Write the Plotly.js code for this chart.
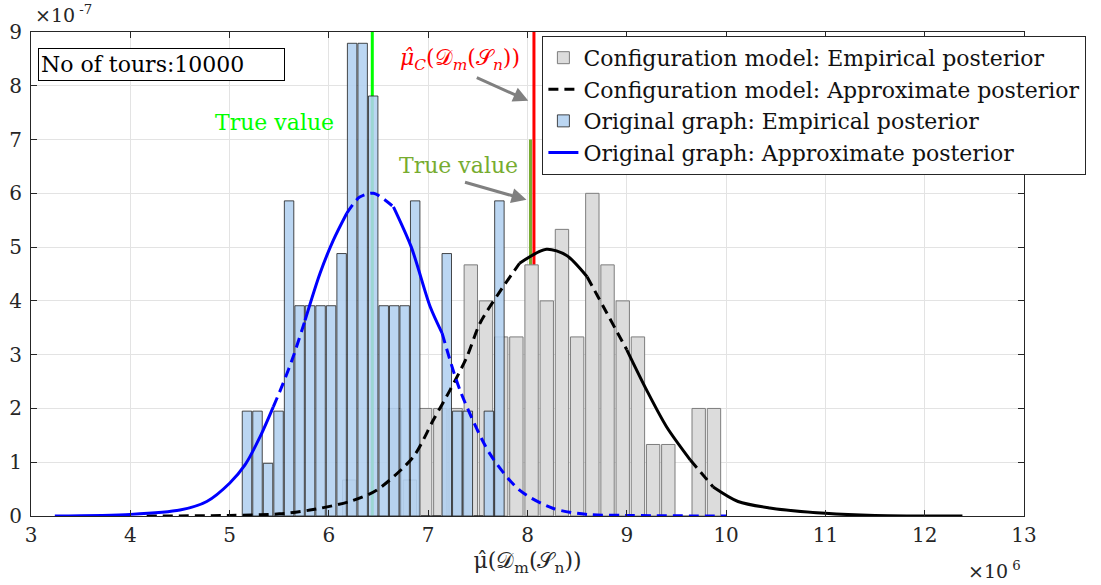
<!DOCTYPE html>
<html><head><meta charset="utf-8">
<script src="https://cdn.plot.ly/plotly-3.0.1.min.js"></script>
<style>body{margin:0;background:#fff}</style>
</head><body><div id="chart" style="width:1101px;height:585px"></div>
<script>
// x in units of 1e6, y (density) in units of 1e-7
const blueBinCenters = [5.175,5.281,5.387,5.493,5.599,5.705,5.810,5.916,6.022,6.128,6.234,6.340,6.446,6.552,6.658,6.763,6.869,6.975,7.081,7.187,7.293,7.399,7.505,7.611,7.717];
const blueDensity    = [1.95,1.95,0.98,1.95,5.86,3.91,3.91,3.91,3.91,4.88,8.79,8.79,7.81,3.91,3.91,3.91,5.86,0,0,4.88,1.95,1.95,0,1.95,5.86];
const blueBinWidth = 0.1059;

const grayBinCenters = [6.204,6.357,6.510,6.663,6.816,6.969,7.122,7.276,7.429,7.582,7.735,7.888,8.041,8.194,8.347,8.500,8.653,8.806,8.959,9.112,9.265,9.418,9.571,9.724,9.878];
const grayDensity    = [0.67,0,0,2.0,0.67,2.0,2.0,2.0,4.67,4.0,3.33,3.33,4.67,4.0,5.33,3.33,6.0,4.67,4.0,3.33,1.33,1.33,0,2.0,2.0];
const grayBinWidth = 0.1531;

const blueCurveX = [3.24,4.0,4.5,4.77,5.0,5.155,5.306,5.44,5.54,5.64,5.76,5.91,6.045,6.18,6.31,6.45,6.65,6.83,7.02,7.14,7.32,7.62,7.92,8.26,8.6,9.0,10.0];
const blueCurveY = [0,0.03,0.11,0.27,0.61,0.95,1.47,2.03,2.47,2.96,3.64,4.51,5.13,5.63,5.93,6.0,5.75,5.0,3.89,3.4,2.34,1.16,0.48,0.14,0.03,0.01,0];

const blackCurveX = [4.165,5.0,5.5,5.81,6.21,6.48,6.85,7.05,7.22,7.39,7.52,7.71,7.92,8.19,8.39,8.6,8.8,9.0,9.2,9.4,9.64,9.87,10.12,10.44,11.0,11.5,12.38];
const blackCurveY = [0,0.01,0.04,0.11,0.27,0.48,1.10,1.78,2.34,2.96,3.58,4.14,4.70,4.96,4.85,4.45,3.77,3.09,2.34,1.66,1.04,0.54,0.27,0.15,0.05,0.01,0];

// line-style pattern along each curve [from, to, dash]
const blueStyle  = [[3.24,5.44,'solid'],[5.44,5.76,'dash'],[5.76,6.18,'solid'],[6.18,6.65,'dash'],[6.65,7.14,'solid'],[7.14,10.0,'dash']];
const blackStyle = [[4.165,7.92,'dash'],[7.92,8.6,'solid'],[8.6,9.0,'dash'],[9.0,9.64,'solid'],[9.64,9.87,'dash'],[9.87,12.38,'solid']];

const trueValueOriginal = 6.437;
const trueValueConfig = 8.03, trueValueConfigTop = 7.0;
const muHatC = 8.065;
const xTicks = [3,4,5,6,7,8,9,10,11,12,13];
const yTicks = [0,1,2,3,4,5,6,7,8,9];

const FONT = 'DejaVu Serif, serif';
const DASH = '10px,6px';

function segTraces(xs, ys, style, color, name, rank) {
  return style.map((s, i) => {
    const idx = xs.map((x, j) => j).filter(j => xs[j] >= s[0] - 1e-9 && xs[j] <= s[1] + 1e-9);
    return {
      type: 'scatter', mode: 'lines',
      x: idx.map(j => xs[j]), y: idx.map(j => ys[j]),
      line: {color: color, width: 3, dash: s[2] === 'dash' ? DASH : 'solid', shape: 'spline', smoothing: 0.8},
      name: name, showlegend: i === 0, legendrank: rank, hoverinfo: 'skip'
    };
  });
}

const traces = [
  {type: 'bar', x: grayBinCenters, y: grayDensity, width: grayBinWidth * 0.88,
   marker: {color: 'rgb(220,220,220)', line: {color: 'rgb(125,125,125)', width: 1}},
   name: 'Configuration model: Empirical posterior', legendrank: 1},
  {type: 'bar', x: blueBinCenters, y: blueDensity, width: blueBinWidth * 0.9,
   marker: {color: 'rgba(178,208,240,0.88)', line: {color: 'rgba(30,30,30,0.8)', width: 1}},
   name: 'Original graph: Empirical posterior', legendrank: 3},
  ...segTraces(blackCurveX, blackCurveY, blackStyle, '#000000', 'Configuration model: Approximate posterior', 2),
  ...segTraces(blueCurveX, blueCurveY, blueStyle, '#0000ff', 'Original graph: Approximate posterior', 4)
];

const axisCommon = {
  showline: true, linecolor: '#262626', linewidth: 1, mirror: 'ticks',
  ticks: 'inside', ticklen: 6, tickcolor: '#262626',
  showgrid: true, gridcolor: '#e3e3e3', gridwidth: 1, zeroline: false,
  tickfont: {family: FONT, size: 20, color: '#262626'}
};

const layout = {
  width: 1101, height: 585,
  margin: {l: 31, r: 77, t: 32, b: 69},
  paper_bgcolor: '#ffffff', plot_bgcolor: '#ffffff',
  barmode: 'overlay', bargap: 0,
  font: {family: FONT, size: 20, color: '#262626'},
  xaxis: Object.assign({}, axisCommon, {
    range: [3, 13], tickvals: xTicks, ticktext: xTicks.map(String), ticklabelstandoff: 1,
    title: {text: 'μ̂(𝒟<sub>m</sub>(𝒮<sub>n</sub>))', font: {family: FONT, size: 22, color: '#262626'}, standoff: 6}
  }),
  yaxis: Object.assign({}, axisCommon, {
    range: [0, 9], tickvals: yTicks, ticktext: yTicks.map(String), ticklabelstandoff: 4
  }),
  showlegend: true,
  legend: {
    x: 0.515, y: 0.992, xanchor: 'left', yanchor: 'top',
    bgcolor: '#ffffff', bordercolor: '#262626', borderwidth: 1,
    font: {family: FONT, size: 22, color: '#111'}, itemwidth: 30, tracegroupgap: 0,
    traceorder: 'normal'
  },
  shapes: [
    {type: 'line', xref: 'x', yref: 'y', x0: trueValueOriginal, x1: trueValueOriginal, y0: 0, y1: 9, line: {color: '#00ff00', width: 3}, layer: 'between'},
    {type: 'line', xref: 'x', yref: 'y', x0: trueValueConfig, x1: trueValueConfig, y0: 0, y1: trueValueConfigTop, line: {color: '#77ac30', width: 3}, layer: 'between'},
    {type: 'line', xref: 'x', yref: 'y', x0: muHatC, x1: muHatC, y0: 0, y1: 9, line: {color: '#ff0000', width: 3}, layer: 'between'}
  ],
  annotations: [
    {xref: 'paper', yref: 'paper', x: 0.007, y: 0.966, xanchor: 'left', yanchor: 'top', showarrow: false,
     text: 'No of tours:10000', align: 'left', width: 241, height: 27, borderpad: 2,
     bordercolor: '#000', borderwidth: 1, bgcolor: '#fff', font: {family: FONT, size: 22, color: '#000'}},
    {xref: 'x', yref: 'y', x: 5.457, y: 7.32, showarrow: false, text: 'True value',
     font: {family: FONT, size: 22, color: '#00ff00'}},
    {xref: 'x', yref: 'y', x: 7.305, y: 6.51, showarrow: false, text: 'True value',
     font: {family: FONT, size: 22, color: '#77ac30'}},
    {xref: 'x', yref: 'y', x: 7.32, y: 8.48, showarrow: false, text: '<i>μ̂<sub>C</sub></i>(𝒟<sub><i>m</i></sub>(𝒮<sub><i>n</i></sub>))',
     font: {family: FONT, size: 22, color: '#ff0000'}},
    {xref: 'x', yref: 'y', x: 8.008, y: 7.72, ax: -53, ay: -24, text: '', showarrow: true,
     arrowhead: 2, arrowsize: 1, arrowwidth: 3, arrowcolor: '#808080', standoff: 0},
    {xref: 'x', yref: 'y', x: 7.99, y: 5.88, ax: -63, ay: -18, text: '', showarrow: true,
     arrowhead: 2, arrowsize: 1, arrowwidth: 3, arrowcolor: '#808080', standoff: 0},
    {xref: 'paper', yref: 'paper', x: 0.002, y: 1.037, xanchor: 'left', yanchor: 'middle', showarrow: false,
     text: '×10<sup> -7</sup>', font: {family: FONT, size: 19, color: '#262626'}},
    {xref: 'paper', yref: 'paper', x: 0.942, y: -0.112, xanchor: 'left', yanchor: 'middle', showarrow: false,
     text: '×10<sup> 6</sup>', font: {family: FONT, size: 19, color: '#262626'}}
  ]
};

Plotly.newPlot('chart', traces, layout, {displayModeBar: false, staticPlot: true});
</script></body></html>
